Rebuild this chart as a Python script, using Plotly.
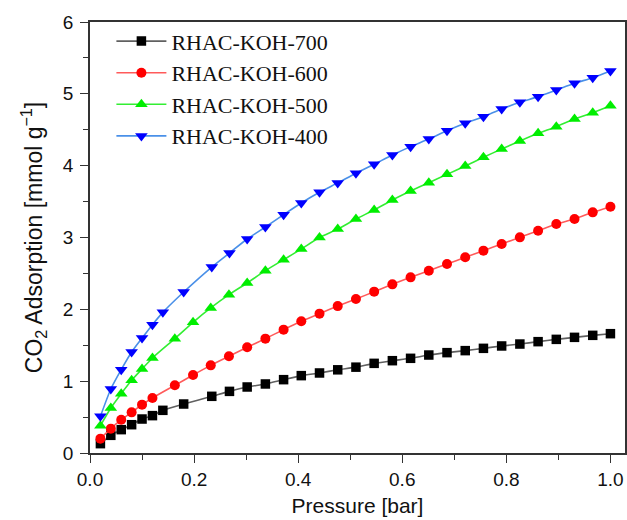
import plotly.graph_objects as go

# Pressure values [bar]
x_a = [0.02, 0.04, 0.06, 0.08, 0.10, 0.12, 0.14, 0.18, 0.234, 0.268, 0.302, 0.337,
       0.372, 0.406, 0.441, 0.476, 0.511, 0.546, 0.581, 0.616, 0.651, 0.686, 0.721,
       0.756, 0.791, 0.826, 0.861, 0.896, 0.931, 0.966, 1.0]
x_b = [0.02, 0.04, 0.06, 0.08, 0.10, 0.12, 0.163, 0.198, 0.232, 0.267, 0.302, 0.337,
       0.372, 0.406, 0.441, 0.476, 0.511, 0.546, 0.581, 0.616, 0.651, 0.686, 0.721,
       0.756, 0.791, 0.826, 0.861, 0.896, 0.931, 0.966, 1.0]

koh700 = [0.13, 0.246, 0.325, 0.394, 0.473, 0.52, 0.594, 0.682, 0.789, 0.858, 0.919,
          0.961, 1.021, 1.077, 1.114, 1.158, 1.195, 1.248, 1.285, 1.318, 1.364, 1.397,
          1.425, 1.457, 1.49, 1.517, 1.55, 1.582, 1.61, 1.638, 1.661]
koh600 = [0.2, 0.339, 0.464, 0.566, 0.673, 0.766, 0.942, 1.086, 1.22, 1.346, 1.471,
          1.592, 1.717, 1.833, 1.94, 2.045, 2.143, 2.246, 2.348, 2.445, 2.538, 2.631,
          2.724, 2.817, 2.91, 3.002, 3.095, 3.188, 3.258, 3.35, 3.429]
koh500 = [0.38, 0.626, 0.826, 1.012, 1.169, 1.323, 1.592, 1.819, 2.019, 2.204, 2.367,
          2.538, 2.691, 2.84, 3.0, 3.117, 3.257, 3.383, 3.522, 3.647, 3.763, 3.879,
          3.995, 4.116, 4.232, 4.343, 4.45, 4.543, 4.65, 4.738, 4.835]
koh400 = [0.51, 0.891, 1.16, 1.406, 1.6, 1.787, 1.958, 2.241, 2.589, 2.784, 2.979,
          3.146, 3.318, 3.48, 3.629, 3.76, 3.895, 4.019, 4.148, 4.265, 4.371, 4.487,
          4.589, 4.682, 4.789, 4.882, 4.961, 5.053, 5.146, 5.225, 5.318]

series = [
    ("RHAC-KOH-700", x_a, koh700, "#606060", "#000000", "square", 9.5),
    ("RHAC-KOH-600", x_b, koh600, "#ff5a5a", "#ff0000", "circle", 10),
    ("RHAC-KOH-500", x_b, koh500, "#33ee33", "#00ee00", "triangle-up", 11),
    ("RHAC-KOH-400", x_a, koh400, "#4a90e8", "#0000ff", "triangle-down", 11),
]

fig = go.Figure()
for name, xs, ys, lc, mc, sym, sz in series:
    fig.add_trace(go.Scatter(
        x=xs, y=ys, name=name, mode="lines+markers",
        line=dict(color=lc, width=1.6, shape="spline", smoothing=0.6),
        marker=dict(color=mc, symbol=sym, size=sz, line=dict(width=0)),
    ))

axis_common = dict(
    showline=True, linecolor="#333333", linewidth=1.5, mirror=True,
    ticks="outside", ticklen=8, tickwidth=1.3, tickcolor="#333333",
    showgrid=False, zeroline=False, automargin=False,
    tickfont=dict(family="Liberation Sans, Arial", size=19, color="#111111"),
)

fig.update_xaxes(
    range=[0, 1.028], dtick=0.2, tick0=0, tickformat=".1f",
    minor=dict(dtick=0.1, ticks="outside", ticklen=5, tickwidth=1.2, tickcolor="#333333"),
    title=dict(text="Pressure [bar]", standoff=10,
               font=dict(family="Liberation Sans, Arial", size=21, color="#111111")),
    **axis_common,
)
fig.update_yaxes(
    range=[0, 6], dtick=1, tick0=0, ticklabelstandoff=3,
    minor=dict(dtick=0.5, ticks="outside", ticklen=5, tickwidth=1.2, tickcolor="#333333"),
    title=dict(text="CO<sub>2</sub> Adsorption [mmol g<sup>\u22121</sup>]", standoff=14,
               font=dict(family="Liberation Sans, Arial", size=23, color="#111111")),
    **axis_common,
)

fig.update_layout(
    width=627, height=520,
    margin=dict(l=90, r=2, t=22, b=67),
    paper_bgcolor="white", plot_bgcolor="white",
    legend=dict(
        x=0.04, y=1.004, xanchor="left", yanchor="top",
        font=dict(family="Liberation Serif, Times New Roman", size=22, color="#111111"),
        bgcolor="rgba(0,0,0,0)", itemwidth=50, tracegroupgap=0,
    ),
    showlegend=True,
)

fig.write_html("out.html", config={"displayModeBar": False},
               post_script="document.body.style.margin='0';")
